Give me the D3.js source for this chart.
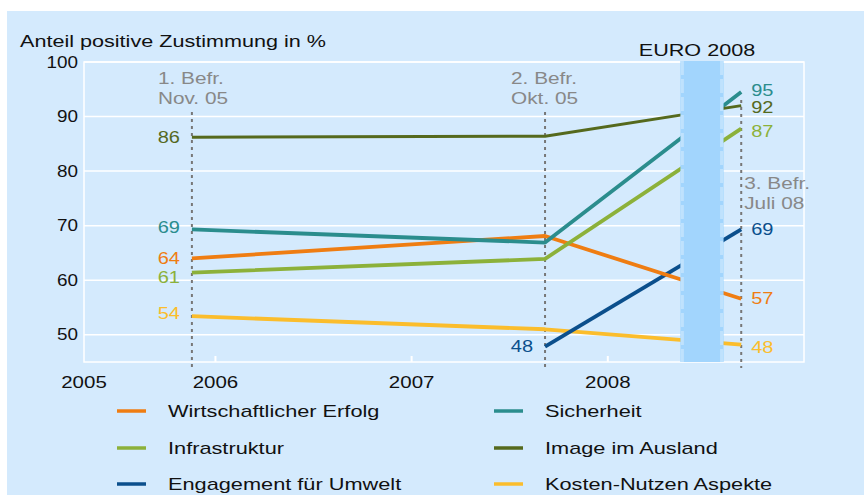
<!DOCTYPE html>
<html lang="de">
<head>
<meta charset="UTF-8">
<title>Zustimmung EURO 2008</title>
<script src="https://d3js.org/d3.v7.min.js"></script>
<style>
  body { margin: 0; background: #fff; }
  svg { display: block; font-family: "Liberation Sans", Arial, sans-serif; }
</style>
</head>
<body>
<div id="chart"></div>
<script>
// Zeitpunkte der Befragungen (Dezimaljahre)
const surveyDates = [2005.88, 2007.68, 2008.68];
const surveyLabels = [["1. Befr.", "Nov. 05"], ["2. Befr.", "Okt. 05"], ["3. Befr.", "Juli 08"]];
const yearTicks = [2005, 2006, 2007, 2008];
const yTicks = [50, 60, 70, 80, 90, 100];
const euroBand = [2008.37, 2008.59];

const seriesNames = ["Wirtschaftlicher Erfolg", "Sicherheit", "Infrastruktur",
  "Image im Ausland", "Engagement für Umwelt", "Kosten-Nutzen Aspekte"];
const wirtschaft = [64.0, 68.1, 56.6];
const sicherheit = [69.3, 66.9, 94.5];
const infrastruktur = [61.4, 63.9, 87.8];
const image = [86.2, 86.4, 92.0];
const umwelt = [null, 47.8, 69.3];
const kosten = [53.4, 51.0, 48.2];
// angezeigte Werte
const startLabels = ["64", "69", "61", "86", "48", "54"];
const endLabels = ["57", "95", "87", "92", "69", "48"];

const colors = ["#ef7d12", "#2b8d8d", "#8cb13a", "#55691d", "#0b4f8c", "#fbbd2c"];
const labelDy = {start: [0, -2, 5, 0, 0, -3], end: [0, -2, 3, 2, 0, 3]};

const W = 864, H = 495;
const svg = d3.select("#chart").append("svg").attr("width", W).attr("height", H);

// Text im Original ist horizontal gestreckt
function txt(g, px, py, str, o = {}) {
  return g.append("text")
    .attr("transform", `translate(${px},${py}) scale(${o.sx || 1.32},1)`)
    .attr("dy", o.dy || null)
    .attr("text-anchor", o.anchor || "start")
    .attr("font-size", o.size || 16)
    .attr("fill", o.fill || "#111")
    .text(str);
}

svg.append("rect").attr("x", 7).attr("y", 11).attr("width", W - 7).attr("height", H - 11)
  .attr("fill", "#d4eafd");

const x = d3.scaleLinear().domain([2005.33, 2009.0]).range([84, 804]);
const y = d3.scaleLinear().domain([45, 100]).range([362, 62]);

// Gitter
svg.append("g").selectAll("line").data(yTicks).join("line")
  .attr("x1", x.range()[0]).attr("x2", x.range()[1])
  .attr("y1", d => y(d)).attr("y2", d => y(d))
  .attr("stroke", "#fff").attr("stroke-width", 1.5);
svg.append("rect").attr("x", 84).attr("y", 62).attr("width", 720).attr("height", 300)
  .attr("fill", "none").attr("stroke", "#fff").attr("stroke-width", 1.5);

svg.append("g").selectAll("line").data(yearTicks.slice(1)).join("line")
  .attr("x1", d => x(d)).attr("x2", d => x(d))
  .attr("y1", 362).attr("y2", 356)
  .attr("stroke", "#fff").attr("stroke-width", 2);

// Achsenbeschriftung
const ax = svg.append("g");
yTicks.forEach(d => txt(ax, 78, y(d), d, {anchor: "end", dy: "0.35em", sx: 1.18}));
yearTicks.forEach(d => txt(ax, d === 2005 ? x.range()[0] : x(d), 382, d, {anchor: "middle", dy: "0.35em", sx: 1.28}));
txt(svg, 20, 47, "Anteil positive Zustimmung in %", {sx: 1.35});

// Befragungen
const sv = svg.append("g");
surveyDates.forEach((d, i) => {
  sv.append("line").attr("x1", x(d)).attr("x2", x(d))
    .attr("y1", i === 2 ? 100 : 112).attr("y2", 368)
    .attr("stroke", "#777").attr("stroke-width", 2).attr("stroke-dasharray", "3,4");
  const tx = i === 2 ? x(d) + 3 : x(d) - 34;
  const ty = i === 2 ? 189 : 84;
  surveyLabels[i].forEach((t, j) => txt(sv, tx, ty + j * 20, t, {fill: "#888", sx: 1.3}));
});

// Linien
const series = [wirtschaft, sicherheit, infrastruktur, image, umwelt, kosten];
const line = d3.line().defined(d => d.v != null).x(d => x(d.t)).y(d => y(d.v));
const order = [5, 4, 0, 2, 1, 3];
order.forEach(i => {
  const pts = series[i].map((v, k) => ({t: surveyDates[k], v}));
  svg.append("path").datum(pts)
    .attr("fill", "none").attr("stroke", colors[i])
    .attr("stroke-width", i === 3 ? 3 : 3.8)
    .attr("stroke-linejoin", "round")
    .attr("d", line);
});

// EURO 2008 Band
svg.append("rect").attr("x", x(euroBand[0])).attr("y", 61)
  .attr("width", x(euroBand[1]) - x(euroBand[0])).attr("height", 301)
  .attr("fill", "#a2d5fd");
euroBand.forEach((b, k) => {
  const bx = x(b) + (k === 0 ? 2 : -2);
  svg.append("line").attr("x1", bx).attr("x2", bx)
    .attr("y1", 61).attr("y2", 362)
    .attr("stroke", "#bfe2fd").attr("stroke-width", 3).attr("stroke-dasharray", "14,4");
});
txt(svg, (x(euroBand[0]) + x(euroBand[1])) / 2 - 5, 56, "EURO 2008", {anchor: "middle", sx: 1.35});

// Werte
const vl = svg.append("g");
series.forEach((s, i) => {
  const k0 = s.findIndex(v => v != null);
  txt(vl, x(surveyDates[k0]) - 12, y(s[k0]) + labelDy.start[i], startLabels[i],
    {anchor: "end", dy: "0.35em", fill: colors[i], sx: 1.25});
  txt(vl, x(surveyDates[2]) + 10, y(s[2]) + labelDy.end[i], endLabels[i],
    {dy: "0.35em", fill: colors[i], sx: 1.25});
});

// Legende
const lg = svg.append("g");
seriesNames.forEach((n, i) => {
  const cx = i % 2 === 0 ? 117 : 494;
  const cy = [411, 448, 484][Math.floor(i / 2)];
  lg.append("line").attr("x1", cx).attr("x2", cx + 29).attr("y1", cy).attr("y2", cy)
    .attr("stroke", colors[i]).attr("stroke-width", 3.5);
  txt(lg, cx + 51, cy, n, {dy: "0.35em", sx: 1.36});
});
</script>
</body>
</html>
